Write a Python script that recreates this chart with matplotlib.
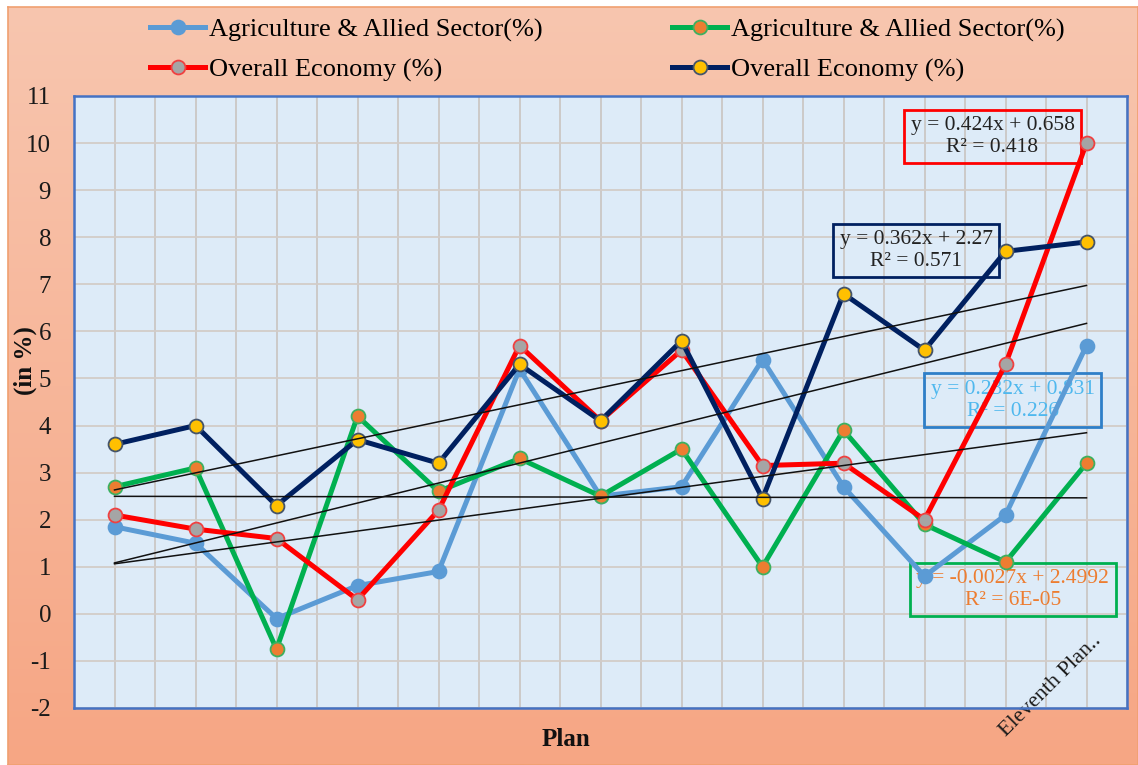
import numpy as np
import matplotlib
matplotlib.use("Agg")
import matplotlib.pyplot as plt
from matplotlib.lines import Line2D

# ---- data -------------------------------------------------------------
plan_index = list(range(1, 14))
plan_labels = [""] * 12 + ["Eleventh Plan.."]

agri_a = [1.85, 1.5, -0.1, 0.6, 0.9, 5.2, 2.5, 2.7, 5.4, 2.7, 0.8, 2.1, 5.7]
agri_b = [2.7, 3.1, -0.75, 4.2, 2.6, 3.3, 2.5, 3.5, 1.0, 3.9, 1.9, 1.1, 3.2]
overall_a = [2.1, 1.8, 1.6, 0.3, 2.2, 5.7, 4.1, 5.6, 3.15, 3.2, 2.0, 5.3, 10.0]
overall_b = [3.6, 4.0, 2.3, 3.7, 3.2, 5.3, 4.1, 5.8, 2.45, 6.8, 5.6, 7.7, 7.9]

series_names = ["Agriculture & Allied Sector(%)", "Agriculture & Allied Sector(%)",
                "Overall Economy (%)", "Overall Economy (%)"]

# linear trend fits (slope, intercept, R squared) for each series
trend_slope = [0.232, -0.0027, 0.424, 0.362]
trend_intercept = [0.831, 2.4992, 0.658, 2.27]
trend_r2 = ["0.226", "6E-05", "0.418", "0.571"]

y_ticks = list(range(-2, 12))

# ---- styling ------------------------------------------------------------
W, H = 1138, 765
SERIF = ["Liberation Serif", "DejaVu Serif"]
plt.rcParams["font.family"] = SERIF

line_colors = ["#5B9BD5", "#00B050", "#FF0000", "#002060"]
face_colors = ["#5B9BD5", "#ED7D31", "#A5A5A5", "#FFC000"]
edge_colors = ["#5B9BD5", "#3CB060", "#F04040", "#44546A"]
box_edges = ["#2E7FC8", "#00B050", "#FF0000", "#002060"]
box_text = ["#4FB8EE", "#ED7D31", "#222222", "#222222"]
# label centres (data coords) for the trend equation boxes
box_pos = [(12.09, 4.54), (12.09, 0.52), (11.84, 10.14), (10.90, 7.72)]

fig = plt.figure(figsize=(W / 100, H / 100), dpi=100, facecolor="white")

# chart-area background: soft vertical peach gradient
bg = fig.add_axes([8 / W, 0, 1 - 8 / W, 1 - 7 / H], zorder=-10)
grad = np.linspace(0, 1, 256)[:, None]
top = np.array([248, 198, 175]) / 255
bot = np.array([246, 166, 132]) / 255
img = top[None, None, :] * (1 - grad[:, :, None]) + bot[None, None, :] * grad[:, :, None]
bg.imshow(img, aspect="auto", extent=[0, 1, 0, 1])
bg.set_xticks([])
bg.set_yticks([])
for s in bg.spines.values():
    s.set_color("#F0A070")
    s.set_linewidth(1.2)

# plot area
ax = fig.add_axes([74 / W, (H - 708) / H, (1127 - 74) / W, (708 - 96) / H])
ax.set_facecolor("#DDEBF8")
ax.set_xlim(0.5, 13.5)
ax.set_ylim(-2, 11)
ax.set_yticks(y_ticks)
ax.set_yticklabels([str(v) for v in y_ticks], fontsize=18, color="#1a1a1a")
ax.set_xticks(plan_index)
ax.set_xticklabels([""] * len(plan_index))
ax.tick_params(axis="both", which="both", length=0)
ax.tick_params(axis="y", pad=16.5)
ax.grid(True, axis="y", which="major", color="#D2CCC8", lw=1.3, zorder=0)
# vertical grid at every category and every category boundary
for gx in np.arange(0.5, 13.51, 0.5):
    ax.axvline(gx, color="#CBC7C4", lw=1.3, zorder=0.5)
ax.set_axisbelow(True)
for s in ax.spines.values():
    s.set_color("#4472C4")
    s.set_linewidth(1.8)
    s.set_zorder(20)

all_series = [agri_a, agri_b, overall_a, overall_b]
handles = []
for i, vals in enumerate(all_series):
    ax.plot(plan_index, vals, color=line_colors[i], lw=3.6, marker="o", ms=10,
            mfc=face_colors[i], mec=edge_colors[i], mew=1.3, zorder=5 + i,
            solid_joinstyle="round")
    handles.append(Line2D([], [], color=line_colors[i], lw=3.6, marker="o", ms=10,
                          mfc=face_colors[i], mec=edge_colors[i], mew=1.3))

# trend lines and their equation boxes
xs = np.array([plan_index[0], plan_index[-1]])
for i in range(4):
    m, b = trend_slope[i], trend_intercept[i]
    ax.plot(xs, m * xs + b, color="#111111", lw=1.1, zorder=10)
    sign = "+" if b >= 0 else "-"
    label = f"y = {m:g}x {sign} {abs(b):g}\nR\u00b2 = {trend_r2[i]}"
    ax.text(box_pos[i][0], box_pos[i][1], label, ha="center", va="center",
            fontsize=15.5, color=box_text[i], linespacing=1.2, zorder=3,
            bbox=dict(boxstyle="square,pad=0.3", fc="none", ec=box_edges[i], lw=2))

# category label (only the last one is shown)
ax.text(plan_index[-1] - 0.44, -1.53, plan_labels[-1], rotation=45,
        ha="center", va="center", fontsize=16, color="#1a1a1a", zorder=12)

# axis titles
fig.text(566 / W, 1 - 739 / H, "Plan", ha="center", va="center",
         fontsize=18, fontweight="bold", color="#111111")
fig.text(25 / W, 1 - 361 / H, "(in %)", ha="center", va="center", rotation=90,
         fontsize=18, fontweight="bold", color="#111111")

# legend: two columns placed side by side
leg_kw = dict(frameon=False, prop={"family": SERIF, "size": 19}, handlelength=2.1,
              handletextpad=0.15, borderpad=0, borderaxespad=0, labelspacing=0.6,
              loc="upper left")
leg1 = fig.legend([handles[0], handles[2]], [series_names[0], series_names[2]],
                  bbox_to_anchor=(150 / W, 1 - 18 / H), **leg_kw)
leg2 = fig.legend([handles[1], handles[3]], [series_names[1], series_names[3]],
                  bbox_to_anchor=(672 / W, 1 - 18 / H), **leg_kw)

fig.savefig("out.png", dpi=100, facecolor=fig.get_facecolor())
